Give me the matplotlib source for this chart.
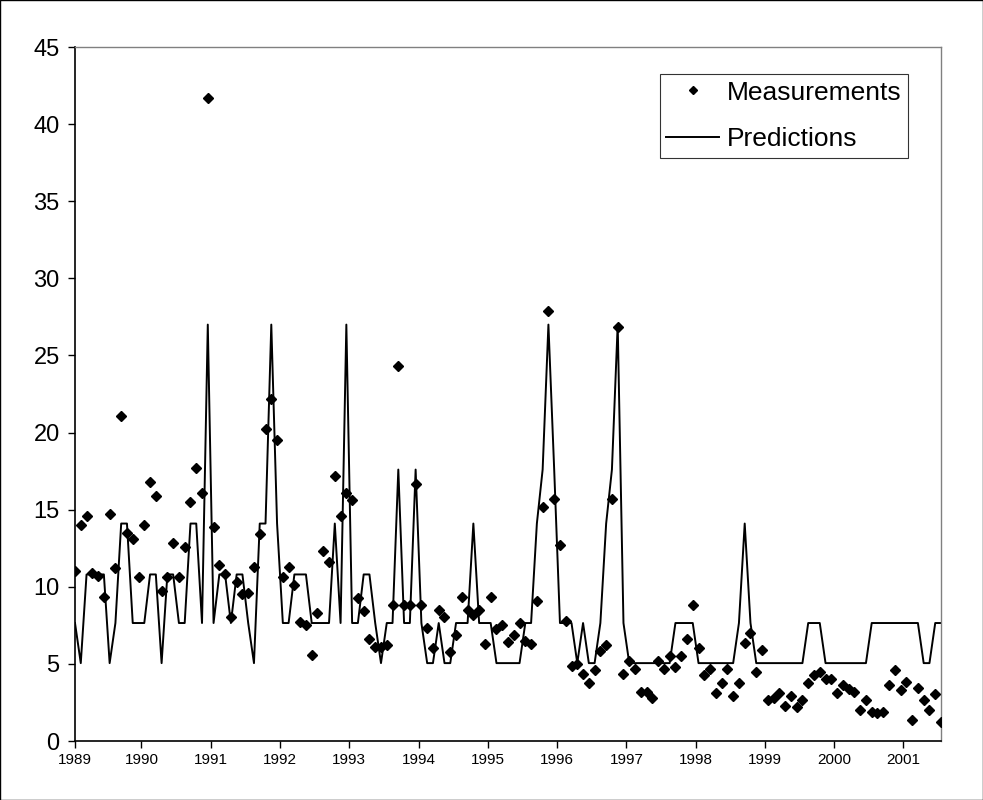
import matplotlib
matplotlib.use("Agg")
import matplotlib.pyplot as plt
import matplotlib.patches as patches
import numpy as np

plt.rcParams['font.family'] = ['Liberation Sans', 'DejaVu Sans']

# monthly series, starting Jan 1989
year_labels = ['1989', '1990', '1991', '1992', '1993', '1994', '1995',
               '1996', '1997', '1998', '1999', '2000', '2001']

measurements = [
    11.0, 14.0, 14.6, 10.9, 10.7, 9.35, 14.7, 11.2, 21.1, 13.5,
    13.1, 10.65, 14.0, 16.8, 15.9, 9.7, 10.65, 12.85, 10.65, 12.6,
    15.5, 17.7, 16.1, 41.7, 13.9, 11.4, 10.8, 8.07, 10.3, 9.5,
    9.6, 11.3, 13.4, 20.2, 22.2, 19.5, 10.65, 11.3, 10.1, 7.7,
    7.5, 5.6, 8.3, 12.35, 11.6, 17.2, 14.6, 16.1, 15.6, 9.24,
    8.4, 6.6, 6.1, 6.1, 6.2, 8.8, 24.3, 8.8, 8.8, 16.65,
    8.8, 7.3, 6.0, 8.5, 8.07, 5.8, 6.85, 9.35, 8.5, 8.2,
    8.5, 6.3, 9.35, 7.24, 7.5, 6.4, 6.85, 7.63, 6.5, 6.3,
    9.1, 15.2, 27.9, 15.7, 12.7, 7.8, 4.85, 5.0, 4.37, 3.76,
    4.6, 5.83, 6.2, 15.7, 26.85, 4.37, 5.17, 4.67, 3.2, 3.2,
    2.8, 5.17, 4.67, 5.5, 4.8, 5.5, 6.6, 8.8, 6.0, 4.26,
    4.67, 3.1, 3.76, 4.67, 2.9, 3.76, 6.37, 7.0, 4.5, 5.9,
    2.67, 2.8, 3.1, 2.3, 2.9, 2.2, 2.67, 3.76, 4.26, 4.5,
    4.0, 4.0, 3.1, 3.65, 3.37, 3.15, 2.0, 2.67, 1.9, 1.8,
    1.9, 3.6, 4.63, 3.3, 3.8, 1.37, 3.43, 2.67, 2.0, 3.04,
    1.26,
]

predictions = [
    7.65, 5.05, 10.8, 10.8, 10.8, 10.8, 5.05, 7.65, 14.1, 14.1,
    7.65, 7.65, 7.65, 10.8, 10.8, 5.05, 10.8, 10.8, 7.65, 7.65,
    14.1, 14.1, 7.65, 27.0, 7.65, 10.8, 10.8, 7.65, 10.8, 10.8,
    7.65, 5.05, 14.1, 14.1, 27.0, 14.1, 7.65, 7.65, 10.8, 10.8,
    10.8, 7.65, 7.65, 7.65, 7.65, 14.1, 7.65, 27.0, 7.65, 7.65,
    10.8, 10.8, 7.65, 5.05, 7.65, 7.65, 17.6, 7.65, 7.65, 17.6,
    7.65, 5.05, 5.05, 7.65, 5.05, 5.05, 7.65, 7.65, 7.65, 14.1,
    7.65, 7.65, 7.65, 5.05, 5.05, 5.05, 5.05, 5.05, 7.65, 7.65,
    14.1, 17.6, 27.0, 17.6, 7.65, 7.65, 7.65, 5.05, 7.65, 5.05,
    5.05, 7.65, 14.1, 17.6, 27.0, 7.65, 5.05, 5.05, 5.05, 5.05,
    5.05, 5.05, 5.05, 5.05, 7.65, 7.65, 7.65, 7.65, 5.05, 5.05,
    5.05, 5.05, 5.05, 5.05, 5.05, 7.65, 14.1, 7.65, 5.05, 5.05,
    5.05, 5.05, 5.05, 5.05, 5.05, 5.05, 5.05, 7.65, 7.65, 7.65,
    5.05, 5.05, 5.05, 5.05, 5.05, 5.05, 5.05, 5.05, 7.65, 7.65,
    7.65, 7.65, 7.65, 7.65, 7.65, 7.65, 7.65, 5.05, 5.05, 7.65,
    7.65,
]

months = np.arange(len(measurements))
# year boundaries fall between December and January samples
tick_pos = [0] + [12 * k - 0.5 for k in range(1, len(year_labels))]

fig = plt.figure(figsize=(9.83, 8.0), dpi=100)
fig.patch.set_facecolor('white')
ax = fig.add_axes([75 / 983, 1 - 741 / 800, 866 / 983, 694 / 800])

ax.plot(months, predictions, color='black', linewidth=1.4, label='Predictions', zorder=2)
ax.plot(months, measurements, linestyle='none', marker='D', markersize=5,
        color='black', label='Measurements', zorder=3)

ax.set_xlim(0, len(measurements) - 1)
ax.set_ylim(0, 45)
ax.set_yticks(np.arange(0, 46, 5))
ax.set_xticks(tick_pos)
ax.set_xticklabels(year_labels)

ax.tick_params(axis='y', direction='out', length=5, width=1, labelsize=17, pad=6)
ax.tick_params(axis='x', direction='out', length=5, width=1, labelsize=11, pad=4)

for side in ['left', 'bottom']:
    ax.spines[side].set_color('black')
    ax.spines[side].set_linewidth(1.2)
for side in ['top', 'right']:
    ax.spines[side].set_color('#808080')
    ax.spines[side].set_linewidth(1.0)

handles, labels = ax.get_legend_handles_labels()
leg = ax.legend(handles[::-1], labels[::-1], loc='upper right',
                bbox_to_anchor=(0.962, 0.961), fontsize=19, frameon=True,
                fancybox=False, borderpad=0.25, handlelength=2.0,
                handletextpad=0.3, labelspacing=0.85, markerscale=0.8,
                borderaxespad=0.0)
leg.get_frame().set_edgecolor('black')
leg.get_frame().set_linewidth(0.8)

# chart area border
fig.patches.append(patches.Rectangle((0.0005, 0.0005), 0.999, 0.999, transform=fig.transFigure,
                                     fill=False, edgecolor='black', linewidth=1.0))

fig.savefig('out.png', dpi=100)
